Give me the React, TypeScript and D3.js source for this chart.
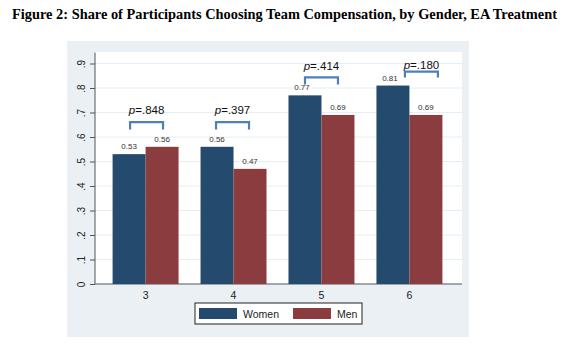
import React, { useEffect, useRef } from 'react';
import * as d3 from 'd3';

const categories = ['3', '4', '5', '6'];
const women = [0.53, 0.56, 0.77, 0.81];
const men = [0.56, 0.47, 0.69, 0.69];
const pLabels = ['.848', '.397', '.414', '.180'];
// bracket top / leg-bottom in data units, and horizontal shift in px
const bracketTop = [0.661, 0.661, 0.843, 0.867];
const bracketLeg = [0.631, 0.631, 0.814, 0.843];
const bracketShift = [1, -1, 0, 12];
const pGap = [8, 8, 7, 3];
const yTicks = [0, 0.1, 0.2, 0.3, 0.4, 0.5, 0.6, 0.7, 0.8, 0.9];
const series = ['Women', 'Men'];

const colors: Record<string, string> = { Women: '#244a6e', Men: '#8b3c3e' };

export default function App() {
  const svgRef = useRef<SVGSVGElement>(null);

  useEffect(() => {
    if (!svgRef.current) return;
    const svg = d3.select(svgRef.current);
    svg.selectAll('*').remove();

    const W = 570, H = 352;
    svg.append('rect').attr('width', W).attr('height', H).attr('fill', '#fff');

    // title
    svg.append('text')
      .attr('x', 12).attr('y', 19)
      .attr('font-family', '"Liberation Serif", "Times New Roman", serif')
      .attr('font-weight', 'bold').attr('font-size', '14.5px')
      .attr('textLength', 545).attr('lengthAdjust', 'spacingAndGlyphs')
      .attr('fill', '#000')
      .text('Figure 2: Share of Participants Choosing Team Compensation, by Gender, EA Treatment');

    // graph region
    svg.append('rect').attr('x', 67).attr('y', 41).attr('width', 402).attr('height', 296).attr('fill', '#eaf0f4');

    const plot = { left: 95, right: 462, top: 52, bottom: 284 };
    svg.append('rect').attr('x', plot.left).attr('y', plot.top)
      .attr('width', plot.right - plot.left).attr('height', plot.bottom - plot.top).attr('fill', '#fff');

    const y = d3.scaleLinear().domain([0, 0.9]).range([plot.bottom, 63.5]);
    const x0 = d3.scaleBand().domain(categories).range([plot.left, plot.right - 2])
      .paddingInner(0.25).paddingOuter(0.2);
    const x1 = d3.scaleBand().domain(series).range([0, x0.bandwidth()]);

    const font = '"Liberation Sans", Arial, Helvetica, sans-serif';

    // gridlines
    svg.append('g').selectAll('line').data(yTicks.slice(1)).enter().append('line')
      .attr('x1', plot.left).attr('x2', plot.right)
      .attr('y1', d => y(d)).attr('y2', d => y(d))
      .attr('stroke', '#e6eef1').attr('stroke-width', 1);

    // y axis
    const yAxis = d3.axisLeft(y).tickValues(yTicks).tickSize(5).tickPadding(3)
      .tickFormat(d => (d === 0 ? '0' : d3.format('.1f')(d as number).replace(/^0/, '')));
    const ga = svg.append('g').attr('transform', `translate(${plot.left},0)`).call(yAxis);
    ga.select('.domain').attr('stroke', '#555').attr('d', `M0,${plot.bottom}V${y(0.9) - 11}`);
    ga.selectAll('.tick line').attr('stroke', '#555');
    ga.selectAll('.tick text')
      .attr('transform', 'rotate(-90)')
      .attr('x', 0).attr('y', -10).attr('dy', '0')
      .attr('text-anchor', 'middle')
      .attr('font-family', font).attr('font-size', '10px').attr('fill', '#222');
    ga.attr('font-family', null);

    // x axis baseline
    svg.append('line').attr('x1', plot.left).attr('x2', plot.right)
      .attr('y1', plot.bottom).attr('y2', plot.bottom).attr('stroke', '#555');

    // bars
    const groups = svg.append('g').selectAll('g').data(categories).enter().append('g')
      .attr('transform', d => `translate(${x0(d)},0)`);
    groups.each(function (cat, i) {
      const g = d3.select(this);
      const vals = [women[i], men[i]];
      series.forEach((s, j) => {
        g.append('rect')
          .attr('x', x1(s)!).attr('y', y(vals[j]))
          .attr('width', x1.bandwidth()).attr('height', plot.bottom - y(vals[j]))
          .attr('fill', colors[s]);
        g.append('text')
          .attr('x', x1(s)! + x1.bandwidth() / 2 - (j === 0 && i >= 2 ? 3 : 0))
          .attr('y', y(vals[j]) - 5)
          .attr('text-anchor', 'middle')
          .attr('font-family', font).attr('font-size', '8px').attr('fill', '#333')
          .text(d3.format('.2f')(vals[j]));
      });
      // bracket
      const bx1 = x1('Women')! + x1.bandwidth() / 2 + bracketShift[i];
      const bx2 = x1('Men')! + x1.bandwidth() / 2 + bracketShift[i];
      const t = y(bracketTop[i]), b = y(bracketLeg[i]);
      g.append('path')
        .attr('d', `M${bx1},${b}V${t}H${bx2}V${b}`)
        .attr('fill', 'none').attr('stroke', '#4f7fbb').attr('stroke-width', 2.2);
      const pt = g.append('text')
        .attr('x', (bx1 + bx2) / 2).attr('y', t - pGap[i])
        .attr('text-anchor', 'middle')
        .attr('font-family', font).attr('font-size', '11.5px').attr('fill', '#111');
      pt.append('tspan').attr('font-style', 'italic').text('p');
      pt.append('tspan').text('=' + pLabels[i]);
    });

    // x labels
    svg.append('g').selectAll('text').data(categories).enter().append('text')
      .attr('x', d => x0(d)! + x0.bandwidth() / 2).attr('y', 299)
      .attr('text-anchor', 'middle')
      .attr('font-family', font).attr('font-size', '10.5px').attr('fill', '#222')
      .text(d => d);

    // legend
    const lg = svg.append('g');
    lg.append('rect').attr('x', 195).attr('y', 303).attr('width', 167).attr('height', 21)
      .attr('fill', '#fff').attr('stroke', '#222').attr('stroke-width', 1);
    const items = lg.selectAll('g').data(series).enter().append('g')
      .attr('transform', (d, i) => `translate(${199 + i * 94},308)`);
    items.append('rect').attr('width', 38).attr('height', 11).attr('fill', d => colors[d]);
    items.append('text').attr('x', 44).attr('y', 9.5)
      .attr('font-family', font).attr('font-size', '10.5px').attr('fill', '#222')
      .text(d => d);
  }, []);

  return (
    <svg ref={svgRef} width={570} height={352}
      style={{ position: 'absolute', left: 0, top: 0, display: 'block' }} />
  );
}
